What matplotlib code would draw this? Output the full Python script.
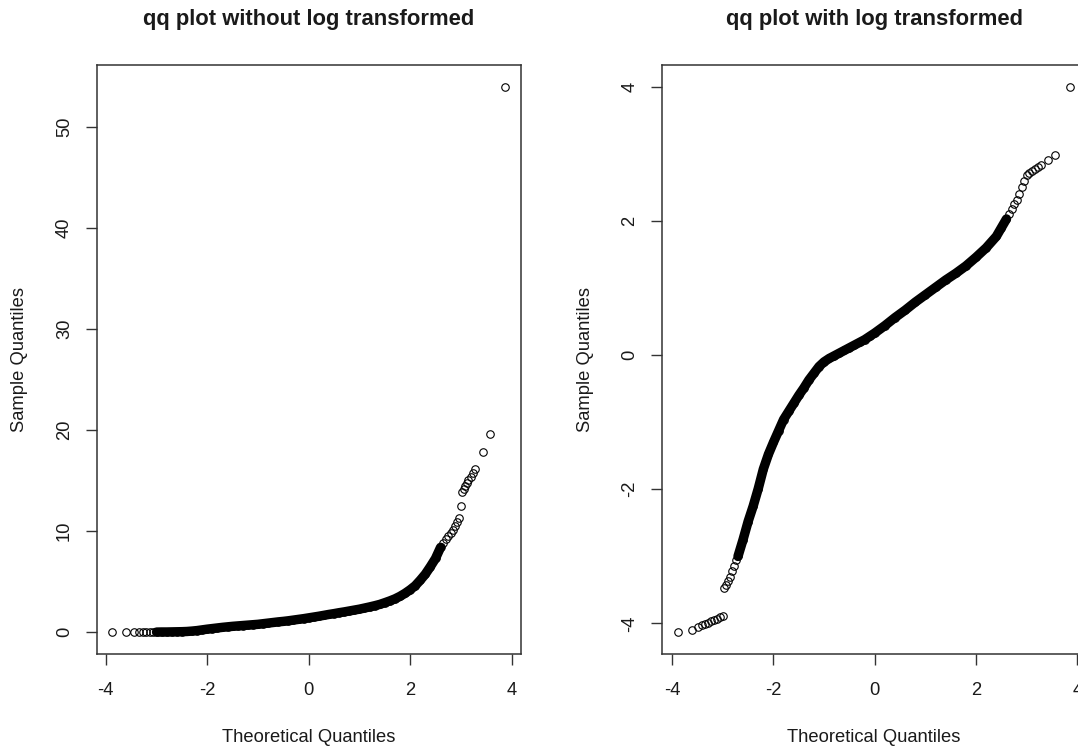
# QQ plots of the raw and log-transformed values (R qqnorm look).
import numpy as np
import matplotlib
matplotlib.use('Agg')
import matplotlib.pyplot as plt

plt.rcParams['font.family'] = ['Liberation Sans', 'DejaVu Sans']
plt.rcParams['axes.unicode_minus'] = False  # R prints a plain hyphen

# Left panel: raw values
raw_theo = [-3.87, -3.61, -3.45, -3.35, -3.27, -3.20, -3.13, -3.07, -3.0, -2.9,
            -2.8, -2.7, -2.6, -2.5, -2.4, -2.3, -2.2, -2.1, -2.0, -1.9,
            -1.8, -1.7, -1.6, -1.5, -1.4, -1.3, -1.2, -1.1, -1.0, -0.9,
            -0.8, -0.7, -0.6, -0.5, -0.4, -0.3, -0.2, -0.1, 0.0, 0.1,
            0.2, 0.3, 0.4, 0.5, 0.6, 0.7, 0.8, 0.9, 1.0, 1.1,
            1.2, 1.3, 1.4, 1.5, 1.6, 1.7, 1.8, 1.9, 2.0, 2.1,
            2.2, 2.3, 2.4, 2.5, 2.6, 2.65, 2.7, 2.75, 2.8, 2.84,
            2.88, 2.92, 2.96, 3.01, 3.03, 3.06, 3.09, 3.12, 3.15, 3.19,
            3.23, 3.28, 3.43, 3.58, 3.87]
raw_sample = [0.0, 0.0, 0.0, 0.0, 0.0, 0.0, 0.01, 0.01, 0.01, 0.02,
              0.02, 0.03, 0.04, 0.05, 0.07, 0.11, 0.16, 0.23, 0.30, 0.36,
              0.42, 0.48, 0.53, 0.58, 0.62, 0.66, 0.70, 0.74, 0.78, 0.84,
              0.90, 0.96, 1.02, 1.07, 1.13, 1.20, 1.27, 1.34, 1.42, 1.50,
              1.58, 1.67, 1.76, 1.84, 1.93, 2.01, 2.10, 2.19, 2.28, 2.39,
              2.50, 2.62, 2.75, 2.92, 3.10, 3.30, 3.55, 3.85, 4.20, 4.60,
              5.15, 5.75, 6.50, 7.30, 8.40, 8.80, 9.20, 9.50, 9.80, 10.1,
              10.5, 10.9, 11.3, 12.5, 13.9, 14.2, 14.5, 14.8, 15.1, 15.4,
              15.8, 16.2, 17.8, 19.6, 54.0]

# Right panel: log-transformed values
log_theo = [-3.89, -3.60, -3.48, -3.41, -3.35, -3.29, -3.23, -3.17, -3.11, -3.05,
            -2.99, -2.97, -2.93, -2.89, -2.85, -2.81, -2.77, -2.73, -2.7, -2.6,
            -2.5, -2.4, -2.3, -2.2, -2.1, -2.0, -1.9, -1.8, -1.7, -1.6,
            -1.5, -1.4, -1.3, -1.2, -1.1, -1.0, -0.9, -0.8, -0.7, -0.6,
            -0.5, -0.4, -0.3, -0.2, -0.1, 0.0, 0.2, 0.4, 0.6, 0.8,
            1.0, 1.2, 1.4, 1.6, 1.8, 2.0, 2.2, 2.4, 2.5, 2.6,
            2.65, 2.7, 2.75, 2.8, 2.85, 2.9, 2.95, 3.0, 3.05, 3.1,
            3.16, 3.22, 3.28, 3.41, 3.56, 3.86]
log_sample = [-4.13, -4.10, -4.05, -4.03, -4.01, -3.99, -3.97, -3.95, -3.93, -3.91,
              -3.89, -3.47, -3.42, -3.37, -3.30, -3.22, -3.14, -3.06, -3.0, -2.75,
              -2.48, -2.25, -1.99, -1.70, -1.48, -1.30, -1.13, -0.96, -0.84, -0.72,
              -0.60, -0.49, -0.37, -0.27, -0.17, -0.10, -0.05, -0.01, 0.03, 0.07,
              0.11, 0.15, 0.19, 0.23, 0.28, 0.33, 0.44, 0.56, 0.67, 0.79,
              0.90, 1.01, 1.12, 1.22, 1.33, 1.46, 1.60, 1.77, 1.90, 2.03,
              2.10, 2.18, 2.25, 2.32, 2.40, 2.50, 2.60, 2.68, 2.71, 2.74,
              2.77, 2.80, 2.83, 2.91, 2.99, 4.0]

titles = ['qq plot without log transformed', 'qq plot with log transformed']
x_ticks = [-4, -2, 0, 2, 4]
raw_yticks = [0, 10, 20, 30, 40, 50]
log_yticks = [-4, -2, 0, 2, 4]


def r_lim(v):
    # R pads the data range by 4% on each side
    lo, hi = min(v), max(v)
    pad = 0.04 * (hi - lo)
    return lo - pad, hi + pad


W, H = 1078, 748
fig = plt.figure(figsize=(W / 100, H / 100), dpi=100)
ax1 = fig.add_axes([96.7 / W, 94 / H, 424 / W, 589 / H])
ax2 = fig.add_axes([662 / W, 94 / H, 424 / W, 589 / H])  # right edge runs off the picture

ink = '#1a1a1a'
for ax, tx, sy, yt, title, band in [
    (ax1, raw_theo, raw_sample, raw_yticks, titles[0], (-3.0, 2.6)),
    (ax2, log_theo, log_sample, log_yticks, titles[1], (-2.7, 2.6)),
]:
    tx = np.array(tx)
    sy = np.array(sy)
    # the dense middle of the sample looks like a solid band
    m = (tx >= band[0]) & (tx <= band[1])
    ax.plot(tx[m], sy[m], '-', color='black', lw=6.8,
            solid_capstyle='round', solid_joinstyle='round', zorder=2)
    ax.plot(tx, sy, 'o', mfc='none', mec='black', ms=5.4, mew=0.8,
            zorder=3, clip_on=False)
    ax.set_xlim(r_lim(tx))
    ax.set_ylim(r_lim(sy))
    ax.set_xticks(x_ticks)
    ax.set_yticks(yt)
    ax.tick_params(length=8, width=1.0, color='#333333',
                   labelsize=13.2, labelcolor=ink)
    ax.tick_params(axis='x', pad=12)
    ax.tick_params(axis='y', pad=9, labelrotation=90)
    for lab in ax.get_yticklabels():
        lab.set_va('center')
    for s in ax.spines.values():
        s.set_color('#333333')
        s.set_linewidth(1.1)
    ax.set_xlabel('Theoretical Quantiles', fontsize=13.2, color=ink, va='center')
    ax.set_ylabel('Sample Quantiles', fontsize=13.2, color=ink, va='center')
    ax.xaxis.set_label_coords(0.5, -84 / 589)
    ax.yaxis.set_label_coords(-77 / 424, 0.5)
    bb = ax.get_position()
    fig.text((bb.x0 + bb.x1) / 2, 1 - 19 / H, title, ha='center', va='center',
             fontsize=15.8, fontweight='bold', color=ink)

plt.savefig('out.png', dpi=100)
plt.close()
